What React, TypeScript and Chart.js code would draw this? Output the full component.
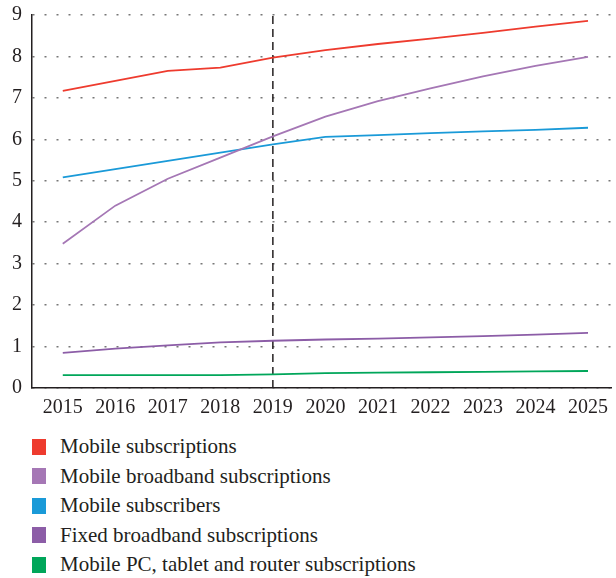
import React, { useEffect, useRef } from 'react';
import { Chart, registerables } from 'chart.js';

Chart.register(...registerables);

const years = [2015, 2016, 2017, 2018, 2019, 2020, 2021, 2022, 2023, 2024, 2025];
const mobileSubscriptions = [7.17, 7.41, 7.65, 7.73, 7.97, 8.15, 8.3, 8.43, 8.57, 8.72, 8.86];
const mobileBroadband = [3.48, 4.4, 5.05, 5.56, 6.07, 6.55, 6.92, 7.23, 7.52, 7.77, 7.99];
const mobileSubscribers = [5.08, 5.28, 5.48, 5.68, 5.88, 6.06, 6.1, 6.15, 6.19, 6.23, 6.28];
const fixedBroadband = [0.85, 0.95, 1.03, 1.1, 1.14, 1.17, 1.19, 1.22, 1.25, 1.29, 1.33];
const mobilePC = [0.31, 0.31, 0.31, 0.31, 0.33, 0.36, 0.37, 0.38, 0.39, 0.4, 0.41];

const seriesNames = [
  'Mobile subscriptions',
  'Mobile broadband subscriptions',
  'Mobile subscribers',
  'Fixed broadband subscriptions',
  'Mobile PC, tablet and router subscriptions',
];
const seriesColors = ['#EE3B2E', '#A577B5', '#1A9AD8', '#8C5DA7', '#00A65A'];
const seriesValues = [mobileSubscriptions, mobileBroadband, mobileSubscribers, fixedBroadband, mobilePC];

const yMin = 0;
const yMax = 9;
const markerYear = 2019;

const FONT = '"Liberation Serif", "Times New Roman", serif';
const TEXT = '#231F20';

export default function App() {
  const ref = useRef<HTMLCanvasElement>(null);

  useEffect(() => {
    document.body.style.margin = '0';
    const datasets: any[] = seriesValues.map((vals, i) => ({
      label: seriesNames[i],
      data: years.map((y, j) => ({ x: y, y: vals[j] })),
      borderColor: seriesColors[i],
      backgroundColor: seriesColors[i],
      borderWidth: 1.8,
      pointRadius: 0,
      tension: 0,
      fill: false,
    }));
    datasets.push({
      label: 'marker',
      data: [
        { x: markerYear, y: yMin },
        { x: markerYear, y: yMax },
      ],
      borderColor: TEXT,
      borderWidth: 1.5,
      borderDash: [8, 5],
      pointRadius: 0,
      fill: false,
    });

    const chart = new Chart(ref.current!, {
      type: 'line',
      data: { datasets },
      options: {
        animation: false,
        responsive: false,
        devicePixelRatio: 1,
        layout: { padding: { top: 0, right: 0, bottom: 4, left: 0 } },
        plugins: { legend: { display: false }, tooltip: { enabled: false } },
        scales: {
          x: {
            type: 'linear',
            min: 2014.414,
            max: 2025.454,
            afterBuildTicks: (scale: any) => {
              scale.ticks = years.map((v) => ({ value: v }));
            },
            grid: { display: false, drawTicks: false },
            border: { display: true, color: TEXT, width: 1.5 },
            ticks: {
              callback: (v: any) => String(v),
              color: TEXT,
              font: { family: FONT, size: 20 },
              padding: 8,
              maxRotation: 0,
              autoSkip: false,
            },
          },
          y: {
            min: yMin,
            max: yMax,
            afterFit: (scale: any) => {
              scale.width = 32;
              scale.paddingTop = 15;
              scale.paddingBottom = 0;
            },
            ticks: {
              stepSize: 1,
              color: TEXT,
              font: { family: FONT, size: 20 },
              padding: 10,
            },
            grid: { color: '#777', lineWidth: 1.6, drawTicks: false },
            border: { display: true, color: TEXT, width: 1.5, dash: [2, 10] },
          },
        },
      },
    });
    return () => chart.destroy();
  }, []);

  return (
    <div style={{ width: 616, fontFamily: FONT, color: TEXT }}>
      <canvas ref={ref} width={616} height={432} style={{ display: 'block', width: 616, height: 432 }} />
      <div style={{ marginTop: 0 }}>
        {seriesNames.map((name, i) => (
          <div key={name} style={{ display: 'flex', alignItems: 'center', height: 29.5 }}>
            <span
              style={{
                display: 'inline-block',
                width: 14,
                height: 16,
                marginLeft: 32,
                marginRight: 14,
                background: seriesColors[i],
              }}
            />
            <span style={{ fontSize: 21, whiteSpace: 'nowrap' }}>{name}</span>
          </div>
        ))}
      </div>
    </div>
  );
}
